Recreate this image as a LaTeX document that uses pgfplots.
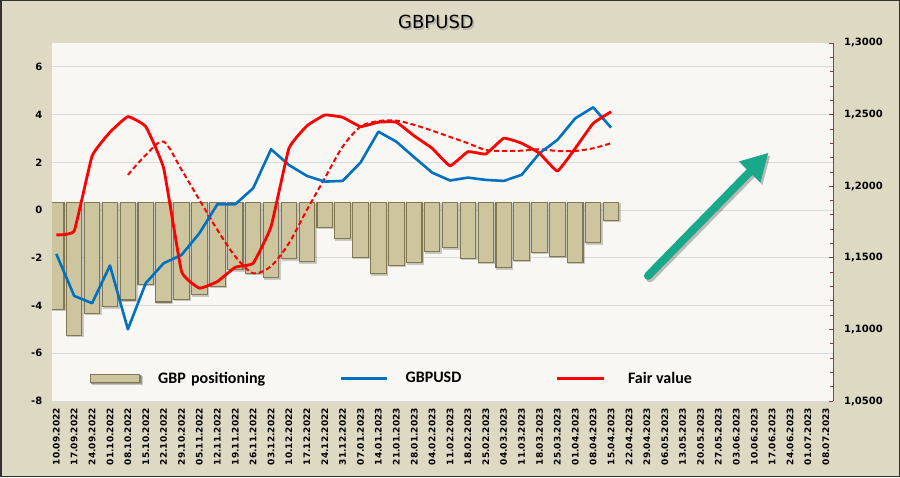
\documentclass[border=0pt]{standalone}
\usepackage{fontspec}
\setmainfont{DejaVu Sans}
\newfontfamily\carlito{Carlito}
\usepackage{pgfplots}
\usepackage{pgfplotstable}
\pgfplotsset{compat=1.18}
\usetikzlibrary{arrows.meta}
\definecolor{bgc}{RGB}{221,217,195}
\definecolor{bordc}{RGB}{50,50,50}
\definecolor{plotbg}{RGB}{248,247,243}
\definecolor{gridc}{RGB}{218,218,218}
\definecolor{barc}{RGB}{204,197,158}
\definecolor{bard}{RGB}{128,120,82}
\definecolor{barl}{RGB}{232,226,186}
\definecolor{lblue}{RGB}{0,112,192}
\definecolor{lred}{RGB}{255,0,0}
\definecolor{arrowc}{RGB}{24,168,138}
\definecolor{axisred}{RGB}{140,60,60}

\pgfplotstableread{
x v
0 -4.46
1 -5.55
2 -4.62
3 -4.35
4 -4.07
5 -3.40
6 -4.15
7 -4.04
8 -3.85
9 -3.50
10 -2.80
11 -2.95
12 -3.14
13 -2.34
14 -2.47
15 -1.02
16 -1.50
17 -2.27
18 -2.97
19 -2.62
20 -2.51
21 -2.05
22 -1.88
23 -2.32
24 -2.48
25 -2.71
26 -2.41
27 -2.06
28 -2.23
29 -2.48
30 -1.67
31 -0.73
}\bars

\pgfplotstableread{
x blue red
0 1.1527 1.1660
1 1.1234 1.1688
2 1.1183 1.2211
3 1.1446 1.2377
4 1.1001 1.2486
5 1.1323 1.2416
6 1.1462 1.2125
7 1.1520 1.1404
8 1.1672 1.1288
9 1.1874 1.1334
10 1.1874 1.1434
11 1.1986 1.1462
12 1.2258 1.1718
13 1.2148 1.2265
14 1.2072 1.2421
15 1.2032 1.2497
16 1.2037 1.2481
17 1.2165 1.2416
18 1.2381 1.2447
19 1.2311 1.2447
20 1.2202 1.2351
21 1.2095 1.2265
22 1.2040 1.2142
23 1.2060 1.2241
24 1.2044 1.2225
25 1.2037 1.2335
26 1.2079 1.2300
27 1.2230 1.2230
28 1.2323 1.2106
29 1.2474 1.2265
30 1.2551 1.2439
31 1.2409 1.2520
}\lines

\pgfplotstableread{
x trend
4 1.2079
5 1.2218
6 1.2311
7 1.2114
8 1.1904
9 1.1695
10 1.1509
11 1.1392
12 1.1442
13 1.1602
14 1.1834
15 1.2056
16 1.2276
17 1.2416
18 1.2455
19 1.2458
20 1.2428
21 1.2388
22 1.2344
23 1.2300
24 1.2253
25 1.2246
26 1.2248
27 1.2258
28 1.2246
29 1.2246
30 1.2265
31 1.2300
}\trend

\begin{document}
\begin{tikzpicture}
\draw[fill=bgc, draw=bordc, line width=1.5pt] (0.75pt,0.75pt) rectangle (899.25pt,476.25pt);
\node[text=black!40, opacity=0.6, font=\fontsize{18}{20}\selectfont] at (437.5pt,453.5pt) {GBPUSD};
\node[text=black, font=\fontsize{18}{20}\selectfont] at (436pt,455pt) {GBPUSD};

% main axis: grid, left ticks, date labels
\begin{axis}[
  at={(52pt,76pt)}, anchor=south west, scale only axis,
  width=781pt, height=358pt,
  xmin=-0.24, xmax=43.4, ymin=-8, ymax=7,
  axis line style={draw=none},
  axis background/.style={fill=plotbg},
  ytick={-8,-6,-4,-2,0,2,4,6},
  yticklabels={-8,-6,-4,-2,0,2,4,6},
  ymajorgrids, grid style={gridc, line width=0.9pt},
  major tick length=0pt,
  xtick={0,...,43},
  xticklabels={10.09.2022,17.09.2022,24.09.2022,01.10.2022,08.10.2022,15.10.2022,22.10.2022,29.10.2022,05.11.2022,12.11.2022,19.11.2022,26.11.2022,03.12.2022,10.12.2022,17.12.2022,24.12.2022,31.12.2022,07.01.2023,14.01.2023,21.01.2023,28.01.2023,04.02.2023,11.02.2023,18.02.2023,25.02.2023,04.03.2023,11.03.2023,18.03.2023,25.03.2023,01.04.2023,08.04.2023,15.04.2023,22.04.2023,29.04.2023,06.05.2023,13.05.2023,20.05.2023,27.05.2023,03.06.2023,10.06.2023,17.06.2023,24.06.2023,01.07.2023,08.07.2023},
  xticklabel style={rotate=90, anchor=east, inner sep=0pt, font=\bfseries\fontsize{9}{10}\selectfont},
  xticklabel shift=7pt,
  yticklabel style={anchor=east, inner sep=0pt, font=\bfseries\fontsize{10}{12}\selectfont},
  yticklabel shift=9.5pt,
]
\addplot[draw=none] coordinates {(0,0)};
\end{axis}

% bars axis
\begin{axis}[
  at={(52pt,76pt)}, anchor=south west, scale only axis,
  width=781pt, height=358pt,
  xmin=-0.24, xmax=43.4, ymin=-8.3, ymax=6.7,
  hide axis,
  legend columns=3,
  legend style={at={(axis description cs:0.0487,0.063)}, anchor=west, draw=none, fill=none,
    inner sep=0pt, outer sep=0pt, column sep=17pt,
    font=\carlito\bfseries\fontsize{16}{18}\selectfont,
    nodes={inner sep=0pt}},
]
\addplot[ybar, bar width=15.5pt, fill=barc, draw=bard, line width=1.1pt,
  preaction={draw=black, opacity=0.18, line width=1.6pt, transform canvas={shift={(1.2pt,-1.2pt)}}},
  legend image code/.code={\fill[black, opacity=0.2] (1pt,-5pt) rectangle (50pt,3pt);
    \fill[barc, draw=bard, line width=1pt] (0pt,-4pt) rectangle (49pt,4pt);}]
  table[x=x, y=v] {\bars};
\addlegendentry[text width=165pt]{GBP positioning}
\addlegendimage{legend image code/.code={\draw[lblue, line width=2.5pt] (0pt,0pt) -- (46pt,0pt);}}
\addlegendentry[text width=133pt]{GBPUSD}
\addlegendimage{legend image code/.code={\draw[lred, line width=2.5pt] (0pt,0pt) -- (47pt,0pt); \path (54pt,0pt);}}
\addlegendentry{Fair value}
\end{axis}

% right axis with lines
\begin{axis}[
  at={(52pt,76pt)}, anchor=south west, scale only axis,
  width=781pt, height=358pt,
  xmin=-0.24, xmax=43.4, ymin=1.05, ymax=1.30,
  axis x line=none, axis y line*=right,
  axis line style={draw=axisred, line width=0.8pt, -},
  ytick={1.05,1.10,1.15,1.20,1.25,1.30},
  yticklabels={{1,0500},{1,1000},{1,1500},{1,2000},{1,2500},{1,3000}},
  minor y tick num=4,
  tick align=inside,
  major tick length=4pt, minor tick length=3pt,
  every tick/.style={draw=axisred, line width=0.7pt},
  yticklabel style={anchor=west, inner sep=0pt, font=\bfseries\fontsize{10}{12}\selectfont},
  yticklabel shift=11pt,
]
\addplot[lred, line width=2pt, dash pattern=on 5pt off 3pt, smooth, tension=0.5] table[x=x, y=trend] {\trend};
\addplot[lblue, line width=2.6pt, line join=round] table[x=x, y=blue] {\lines};
\addplot[lred, line width=2.8pt, line join=round, smooth, tension=0.2] table[x=x, y=red] {\lines};
\draw[black, opacity=0.25, line width=8pt, line cap=round, -{Triangle[length=27pt,width=28pt]}]
  ([xshift=2pt,yshift=-2.5pt]axis cs:33.06,1.1374) -- ([xshift=2pt,yshift=-2.5pt]axis cs:39.8,1.2234);
\draw[arrowc, line width=8pt, line cap=round, -{Triangle[length=27pt,width=28pt]}]
  (axis cs:33.06,1.1374) -- (axis cs:39.8,1.2234);
\end{axis}
\pgfresetboundingbox
\path (0pt,0pt) rectangle (900pt,477pt);
\end{tikzpicture}
\end{document}
